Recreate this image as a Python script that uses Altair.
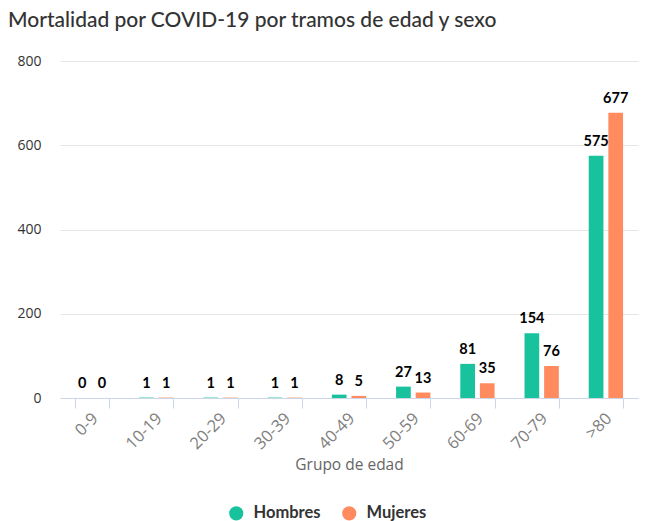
import altair as alt
import pandas as pd

groups = ["0-9", "10-19", "20-29", "30-39", "40-49", "50-59", "60-69", "70-79", ">80"]
hombres = [0, 1, 1, 1, 8, 27, 81, 154, 575]
mujeres = [0, 1, 1, 1, 5, 13, 35, 76, 677]
series = ["Hombres", "Mujeres"]
colors = ["#17c29c", "#ff8b5f"]

rows = []
for g, h, m in zip(groups, hombres, mujeres):
    rows.append({"grupo": g, "sexo": "Hombres", "valor": h})
    rows.append({"grupo": g, "sexo": "Mujeres", "valor": m})
df = pd.DataFrame(rows)

x = alt.X("grupo:N", sort=groups, title="Grupo de edad",
          scale=alt.Scale(paddingInner=0.466, paddingOuter=0.233),
          axis=alt.Axis(labelAngle=-45, labelColor="#808080", labelFont="Open Sans",
                        labelFontSize=16.5, titleColor="#666666", titleFont="Open Sans",
                        titleFontSize=15.5, titleFontWeight="normal", titlePadding=5,
                        domainColor="#ccd6eb", tickColor="#ccd6eb", tickSize=10,
                        tickBand="extent", labelPadding=2, labelOffset=-3, grid=False))
xo = alt.XOffset("sexo:N", sort=series, scale=alt.Scale(paddingInner=0.25))
y = alt.Y("valor:Q", title=None,
          scale=alt.Scale(domain=[0, 800]),
          axis=alt.Axis(values=[0, 200, 400, 600, 800], labelColor="#333333",
                        labelFont="Open Sans", labelFontSize=14, domain=False, ticks=False,
                        gridColor="#e6e6e6", labelPadding=19))
color = alt.Color("sexo:N", sort=series, title=None,
                  scale=alt.Scale(domain=series, range=colors),
                  legend=alt.Legend(orient="none", legendX=168, legendY=444, direction="horizontal",
                                    symbolType="circle", symbolSize=200, labelFont="Lato",
                                    labelFontSize=16.5, labelFontWeight="bold", labelColor="#333333",
                                    columnPadding=20, symbolStrokeWidth=0, labelOffset=9))

bars = alt.Chart(df).mark_bar().encode(x=x, xOffset=xo, y=y, color=color)
labels = alt.Chart(df).mark_text(dy=-7, font="Lato", fontSize=14.5, fontWeight="bold",
                                 color="#000000", baseline="bottom").encode(
    x=x, xOffset=xo, y=y, text="valor:Q")

chart = alt.layer(bars, labels).properties(
    width=578, height=337,
    background="white",
    title=alt.Title("Mortalidad por COVID-19 por tramos de edad y sexo", anchor="start",
                    frame="group", font="Lato", fontSize=21, fontWeight=500, color="#333333",
                    dx=-52, offset=23),
    autosize=alt.AutoSizeParams(type="none"),
    padding={"left": 60, "top": 61, "right": 10, "bottom": 123},
).configure_view(stroke="transparent", strokeWidth=0)

chart.save("out.html", embed_options={"renderer": "svg", "actions": False})
